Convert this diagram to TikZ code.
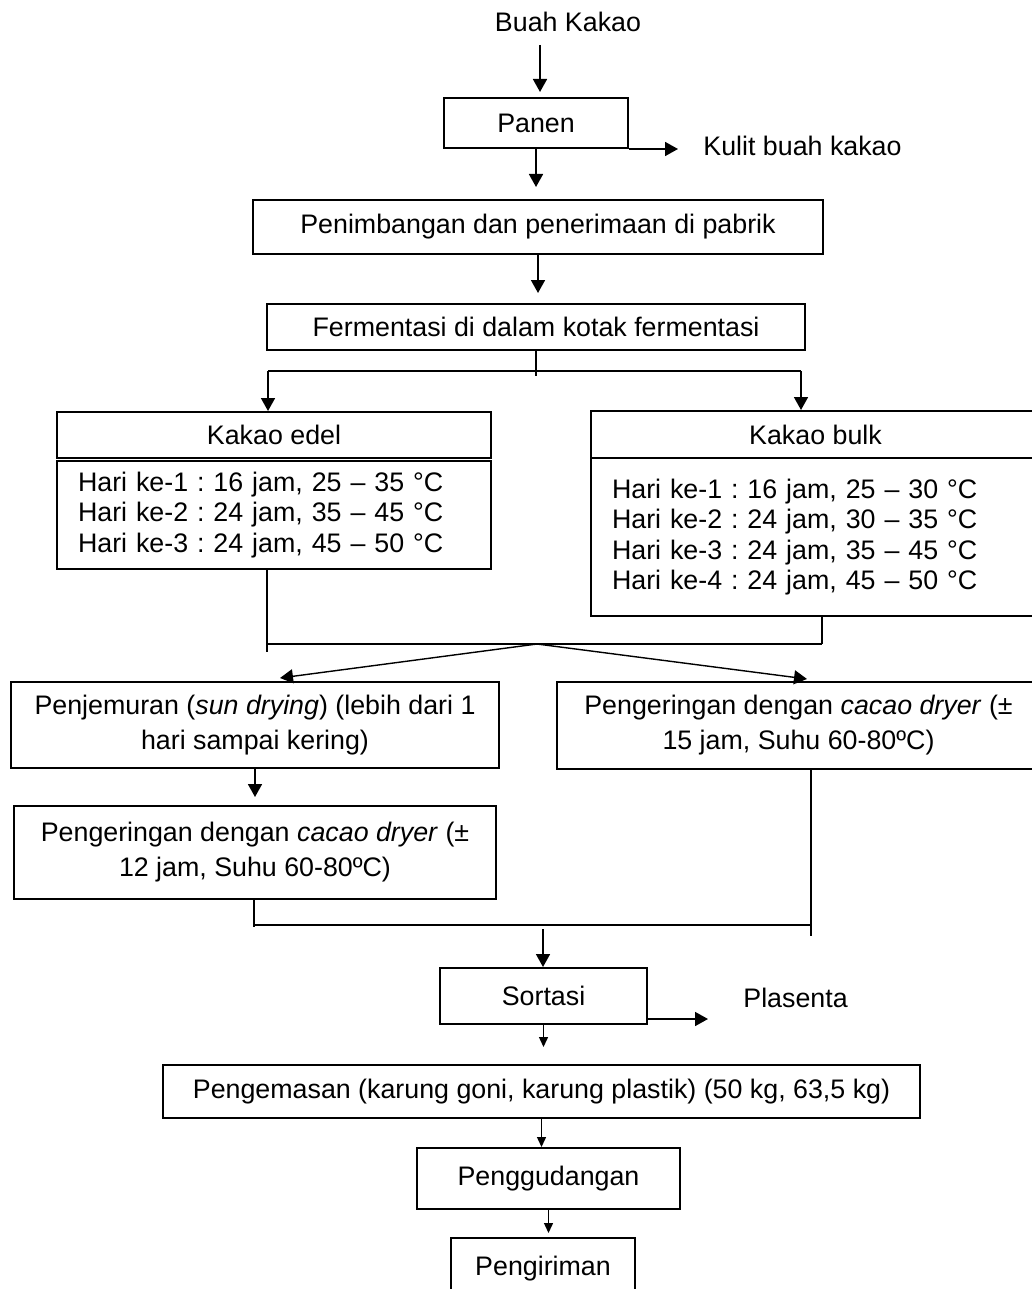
\documentclass[tikz,border=0pt]{standalone}
\usepackage{fontspec}
\setmainfont{Liberation Sans}
\usetikzlibrary{arrows.meta, positioning, calc}

\begin{document}
\frenchspacing
\begin{tikzpicture}[x=0.5pt,y=-0.5pt,-,
                    box node/.style={draw,line width=1pt,inner sep=0pt,font=\fontsize{13.4}{15.2}\selectfont},
                    two line/.style={align=center,font=\fontsize{13.4}{17.5}\selectfont},
                    day list/.style={align=left,inner xsep=10.5pt,font=\fontsize{13.4}{15.25}\selectfont},
                    plain node/.style={inner sep=0pt,font=\fontsize{13.4}{15.2}\selectfont},
                    arrow line/.style={-{Triangle[length=6.5pt,width=7pt]},line width=0.85pt},
                    small arrow/.style={-{Triangle[length=5pt,width=4.5pt]},line width=0.7pt},
                    join line/.style={line width=0.85pt}]

  \useasboundingbox (0,0) rectangle (1032,1289);

  \node[plain node] (0) at (568,22) {Buah Kakao};
  \node[box node,minimum width=92pt,minimum height=25pt] (1) at (536,123) {Panen};
  \node[plain node,anchor=west] (k) at (703,146) {Kulit buah kakao};
  \node[box node,minimum width=285pt,minimum height=27pt] (2) at (538,227) {Penimbangan dan penerimaan di pabrik};
  \node[box node,minimum width=269pt,minimum height=23pt] (3) at (536,327) {Fermentasi di dalam kotak fermentasi};

  % two kinds of fermentation
  \node[box node,minimum width=217pt,minimum height=23pt] (4) at (274,435) {Kakao edel};
  \node[box node,day list,text width=196pt,minimum width=217pt,minimum height=54pt] (5) at (274,515)
    {Hari ke-1 : 16 jam, 25 – 35 °C\\Hari ke-2 : 24 jam, 35 – 45 °C\\Hari ke-3 : 24 jam, 45 – 50 °C};
  \node[box node,minimum width=224.5pt,minimum height=23.5pt] (6) at (815.5,434.5) {Kakao bulk};
  \node[box node,day list,text width=203.5pt,minimum width=224.5pt,minimum height=79pt] (7) at (815.5,537)
    {Hari ke-1 : 16 jam, 25 – 30 °C\\Hari ke-2 : 24 jam, 30 – 35 °C\\Hari ke-3 : 24 jam, 35 – 45 °C\\Hari ke-4 : 24 jam, 45 – 50 °C\\[2pt]};

  % drying
  \node[box node,two line,minimum width=244pt,minimum height=43pt] (8) at (255,725)
    {Penjemuran (\textit{sun drying}) (lebih dari 1\\hari sampai kering)};
  \node[box node,two line,minimum width=241.5pt,minimum height=43.5pt] (9) at (798.5,725.5)
    {Pengeringan dengan \textit{cacao dryer} (±\\15 jam, Suhu 60-80ºC)};
  \node[box node,two line,minimum width=241pt,minimum height=46.5pt] (10) at (255,852.5)
    {Pengeringan dengan \textit{cacao dryer} (±\\12 jam, Suhu 60-80ºC)};

  \node[box node,minimum width=103.5pt,minimum height=28pt] (11) at (543.5,996) {Sortasi};
  \node[plain node,anchor=west] (12) at (743,998) {Plasenta};
  \node[box node,minimum width=378.5pt,minimum height=26.5pt] (13) at (541.5,1091.5) {Pengemasan (karung goni, karung plastik) (50 kg, 63,5 kg)};
  \node[box node,minimum width=131.5pt,minimum height=30.5pt] (14) at (548.5,1178.5) {Penggudangan};
  \node[box node,minimum width=92pt,minimum height=31pt] (15) at (543,1269) {Pengiriman};

  \coordinate (a0) at (540,45);
  \coordinate (f1) at (536,376);
  \coordinate (f2) at (268,371);
  \coordinate (f3) at (801,371);
  \coordinate (j0) at (537,644);
  \coordinate (j1) at (267,652);
  \coordinate (j2) at (822,644);
  \coordinate (t1) at (280,678);
  \coordinate (t2) at (807,679);
  \coordinate (m1) at (254,927);
  \coordinate (m2) at (811,936);
  \coordinate (m3) at (811,925);
  \coordinate (m4) at (543,929);

  \draw[arrow line,shorten >=2.5pt] (a0) -- (a0 |- 1.north);
  \draw[arrow line,shorten >=12.5pt] (1.south east) -- (1.south east -| k.west);
  \draw[arrow line,shorten >=6pt] (1.south) -- (1.south |- 2.north);
  \draw[arrow line,shorten >=5pt] (2.south) -- (2.south |- 3.north);

  \draw[join line] (3.south) -- (f1);
  \draw[join line] (f2) -- (f3);
  \draw[arrow line] (f2) -- (f2 |- 4.north);
  \draw[arrow line] (f3) -- (f3 |- 6.north);

  \draw[join line] (5.south -| j1) -- (j1);
  \draw[join line] (7.south -| j2) -- (j2);
  \draw[join line] (j1 |- j2) -- (j2);
  \draw[arrow line,line width=0.7pt] (j0) -- (t1);
  \draw[arrow line,line width=0.7pt] (j0) -- (t2);

  \draw[arrow line,shorten >=4pt] (8.south) -- (8.south |- 10.north);
  \draw[join line] (10.south -| m1) -- (m1);
  \draw[join line] (9.south -| m2) -- (m2);
  \draw[join line] (m1 |- m3) -- (m3);
  \draw[arrow line] (m4) -- (m4 |- 11.north);
  \draw[arrow line,shorten >=17.5pt] ([yshift=3pt]11.south east) -- ([yshift=3pt]11.south east -| 12.west);

  \draw[small arrow,shorten >=8.5pt] (11.south) -- (11.south |- 13.north);
  \draw[small arrow] (13.south) -- (13.south |- 14.north);
  \draw[small arrow,shorten >=2pt] (14.south) -- (14.south |- 15.north);

\end{tikzpicture}
\end{document}
